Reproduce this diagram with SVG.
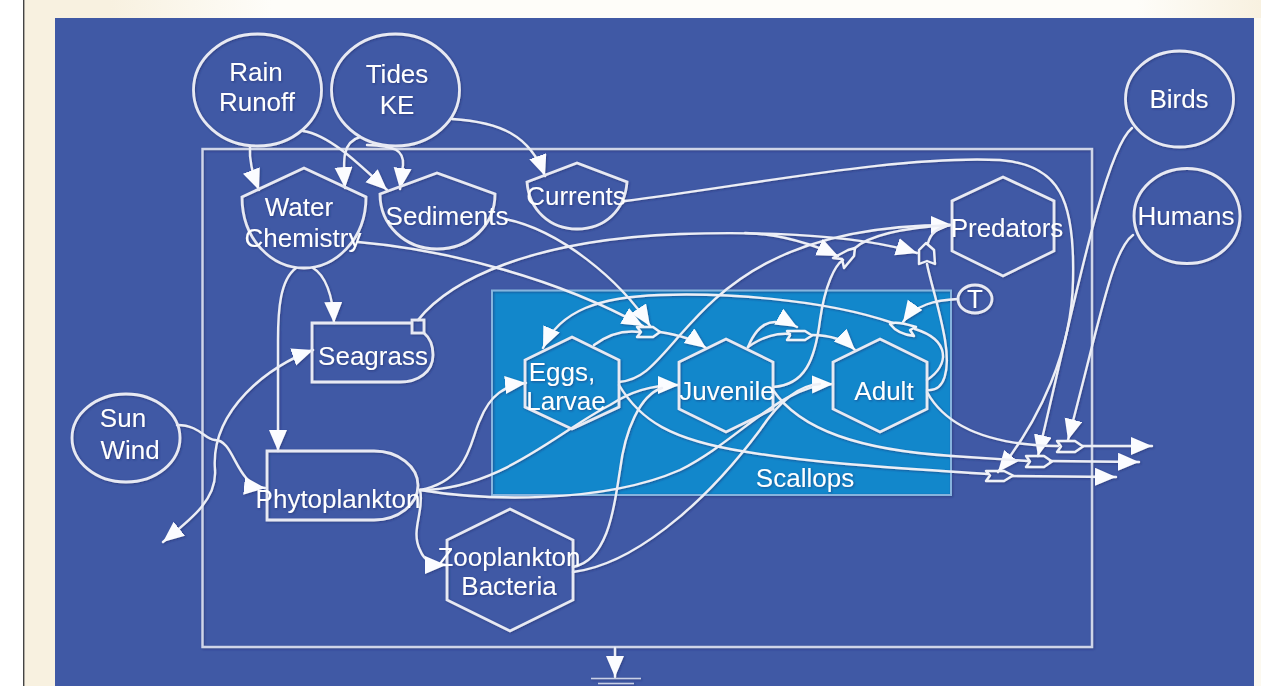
<svg xmlns="http://www.w3.org/2000/svg" width="1261" height="686" viewBox="0 0 1261 686">
<defs>
<linearGradient id="top" x1="0" y1="0" x2="1" y2="0"><stop offset="0" stop-color="#f8f1e0"/><stop offset="0.07" stop-color="#f8f1e0"/><stop offset="0.2" stop-color="#fefdf9"/><stop offset="0.9" stop-color="#fefdf9"/><stop offset="1" stop-color="#f8f1e0"/></linearGradient>
<marker id="a" markerUnits="userSpaceOnUse" markerWidth="24" markerHeight="20" refX="21" refY="9" orient="auto"><path d="M0,0 L21,9 L0,18 Z" fill="#fbfcff"/></marker>
<filter id="soft" x="-5%" y="-5%" width="110%" height="110%"><feGaussianBlur in="SourceGraphic" stdDeviation="0.35" result="s"/><feDropShadow in="s" dx="1" dy="1" stdDeviation="0.9" flood-color="#1d2c66" flood-opacity="0.55"/></filter>
</defs>
<style>
.n{fill:none;stroke:#e7e9f3;stroke-width:2.8}
.b{fill:none;stroke:#cfd5e8;stroke-width:2.4}
.c{fill:none;stroke:#eceef6;stroke-width:2.4;stroke-linecap:round}
.h{marker-end:url(#a)}
.v{fill:none;stroke:#f0f2f8;stroke-width:2.4;stroke-linejoin:round}
.g{fill:none;stroke:#c9d0e6;stroke-width:1.3}
text{font-family:"Liberation Sans",Arial,sans-serif;font-size:26px;fill:#fff;text-anchor:middle}
</style>
<rect width="1261" height="686" fill="#fff"/>
<rect x="24" y="0" width="1237" height="686" fill="#f8f1e0"/>
<rect x="24" y="0" width="1237" height="18" fill="url(#top)"/>
<rect x="1254" y="18" width="7" height="668" fill="#fcf9f0"/>
<rect x="23" y="0" width="1.4" height="686" fill="#444"/>
<rect x="55" y="18" width="1199" height="668" fill="#4059a5"/>
<rect x="492" y="290" width="459" height="205" fill="#1287cb"/>
<g filter="url(#soft)">
<g id="boundary"><rect class="b" x="202.500" y="149" width="889.500" height="498"/><rect x="492" y="290.500" width="459" height="204.500" fill="none" stroke="#86b4de" stroke-width="2"/></g>
<g id="connectors">
<path class="c h" d="M250,146 C249,160 252,172 259,190"/>
<path class="c h" d="M303,131 C330,135 360,165 387,190"/>
<path class="c h" d="M360,137 C342,142 343,160 345,188"/>
<path class="c h" d="M367,145 C395,146 404,150 403,165 L400,189"/>
<path class="c h" d="M452,119 C500,122 530,135 545,176"/>
<path class="c h" d="M625,201 C750,185 900,155 1000,160 C1060,165 1075,200 1073,280 C1072,350 1040,420 998,472"/>
<path class="c h" d="M1132,128 C1105,150 1075,300 1038,456"/>
<path class="c h" d="M1133,235 C1112,250 1100,320 1068,440"/>
<path class="c h" d="M505,219 C560,230 620,280 650,326"/>
<path class="c h" d="M358,242 C450,250 560,280 643,326"/>
<path class="c" d="M594,345 C610,333 625,330 640,332"/>
<path class="c h" d="M660,332 C680,335 695,340 706,348"/>
<path class="c h" d="M619,382 C640,380 650,370 680,335 C720,290 780,225 952,225"/>
<path class="c" d="M773,387 C805,385 815,360 820,320 C825,285 835,265 843,260"/>
<path class="c" d="M855,248 C870,235 900,228 950,225"/>
<path class="c" d="M927,390 C945,392 950,370 945,340 C940,310 930,280 927,264"/>
<path class="c" d="M928,243 C930,235 935,228 950,225"/>
<path class="c h" d="M418,320 C450,280 530,240 680,234 C740,232 850,232 917,253"/>
<path class="c h" d="M745,233 C780,234 810,243 838,256"/>
<path class="c h" d="M177,425 C200,425 205,440 215,440 C235,440 235,485 265,488"/>
<path class="c h" d="M215,470 C210,410 270,365 313,350"/>
<path class="c h" d="M215,470 C217,500 190,520 163,542"/>
<path class="c h" d="M313,268 C325,275 333,295 334,323"/>
<path class="c h" d="M296,268 C280,280 278,310 278,340 L278,451"/>
<path class="c h" d="M420,490 C470,480 470,440 480,420 C490,395 505,385 526,383"/>
<path class="c h" d="M420,490 C500,490 560,430 610,405 C630,392 650,385 679,385"/>
<path class="c h" d="M420,490 C480,500 600,505 680,470 C740,440 780,385 833,384"/>
<path class="c h" d="M420,490 C425,510 410,530 420,550 C425,563 435,565 446,565"/>
<path class="c" d="M573,567 C610,560 615,500 620,470 C625,430 640,395 662,388"/>
<path class="c" d="M573,572 C630,565 700,510 760,430 C780,400 800,385 820,384"/>
<path class="c" d="M619,385 C640,420 670,440 747,452 C820,464 900,468 988,474"/>
<path class="c h" d="M1012,476 L1116,477"/>
<path class="c" d="M773,390 C800,430 860,450 952,456 L1028,461"/>
<path class="c h" d="M1050,461 L1139,462"/>
<path class="c" d="M927,392 C945,425 985,445 1058,446"/>
<path class="c h" d="M1082,446 L1152,446"/>
<path class="c" d="M748,347 C765,335 780,333 790,334"/>
<path class="c h" d="M812,335 C830,335 845,340 855,350"/>
<path class="c h" d="M748,347 C755,330 765,322 775,322 C783,322 790,323 797,327"/>
<path class="c" d="M927,380 C950,365 950,340 915,329"/>
<path class="c h" d="M893,323 C820,298 720,293 660,295 C600,297 560,310 543,348"/>
<path class="c h" d="M958,299 C935,300 915,305 903,322"/>
<path class="c h" d="M615,648 L615,677"/>
<path class="g" d="M591,678.500 H641"/>
<path class="g" d="M598,683.500 H634"/>
</g>
<g id="valves">
<path class="v" d="M637,327 H653 L660,332 L653,337 H637 L641,332 Z"/>
<path class="v" d="M787,331 H805 L812,335.500 L805,340 H787 L790,335.500 Z"/>
<path class="v" d="M890,324 C893,322 900,322 916,327 L910,330 L914,336 C905,335 896,332 890,324 Z"/>
<path class="v" d="M833,258 L848,250 L855,248 L854,256 L844,268 L842,259 Z"/>
<path class="v" d="M919,264 V250 L926,243 L934,250 L935,264 L927,261 Z"/>
<path class="v" d="M986,471 H1004 L1013,475.500 L1004,481 H986 L990,475.500 Z"/>
<path class="v" d="M1026,456 H1044 L1052,461.500 L1044,467 H1026 L1030,461.500 Z"/>
<path class="v" d="M1057,441 H1075 L1083,446.500 L1075,452 H1057 L1061,446.500 Z"/>
</g>
<g id="rain"><ellipse class="n" cx="257.500" cy="90" rx="64" ry="56"/><text x="256" y="81">Rain</text><text x="257" y="111">Runoff</text></g>
<g id="tides"><ellipse class="n" cx="395.500" cy="90" rx="64" ry="56"/><text x="397" y="83">Tides</text><text x="397" y="114">KE</text></g>
<g id="birds"><ellipse class="n" cx="1179.500" cy="99" rx="54" ry="48"/><text x="1179" y="108">Birds</text></g>
<g id="humans"><ellipse class="n" cx="1187" cy="216" rx="53" ry="47.500"/><text x="1186" y="225">Humans</text></g>
<g id="sun"><ellipse class="n" cx="126" cy="438" rx="54" ry="44"/><text x="123" y="427">Sun</text><text x="130" y="459">Wind</text></g>
<g id="water"><path class="n" d="M242,197 L304,168 L366,197 C366,240 335,268 304,268 C272,268 242,240 242,197 Z"/><text x="299" y="216">Water</text><text x="303" y="247">Chemistry</text></g>
<g id="sediments"><path class="n" d="M380,194 L437,173 L495,194 C495,225 470,249 437,249 C405,249 380,225 380,194 Z"/><text x="447" y="225">Sediments</text></g>
<g id="currents"><path class="n" d="M527,182 L577,163 L627,182 C625,210 605,229 577,229 C550,229 529,210 527,182 Z"/><text x="576" y="205">Currents</text></g>
<g id="seagrass"><path class="n" d="M412,323 H312 V382 H400 C418,382 433,372 433,355 C433,345 430,338 424,333"/><rect class="n" x="412" y="320" width="12" height="13"/><text x="373" y="365">Seagrass</text></g>
<g id="phytoplankton"><path class="n" d="M374,451 H267 V520 H374 A44,34.500 0 0 0 374,451 Z"/><text x="338" y="508">Phytoplankton</text></g>
<g id="zooplankton"><path class="n" d="M510,509 L573,540 V600 L510,631 L447,600 V540 Z"/><text x="509" y="566">Zooplankton</text><text x="509" y="595">Bacteria</text></g>
<g id="predators"><path class="n" d="M1003,177 L1054,201 V251 L1003,276 L952,251 V201 Z"/><text x="1007" y="237">Predators</text></g>
<g id="eggs"><path class="n" d="M572,337 L619,360 V407 L572,429 L525,407 V360 Z"/><text x="562" y="381">Eggs,</text><text x="566" y="410">Larvae</text></g>
<g id="juvenile"><path class="n" d="M726,339 L773,362 V409 L726,432 L679,409 V362 Z"/><text x="727" y="400">Juvenile</text></g>
<g id="adult"><path class="n" d="M880,339 L927,362 V409 L880,432 L833,409 V362 Z"/><text x="884" y="400">Adult</text></g>
<g id="t"><ellipse class="n" cx="975" cy="299" rx="17" ry="14"/><text x="975" y="308">T</text></g>
<g id="scallops"><text x="805" y="487">Scallops</text></g>
</g>
</svg>
